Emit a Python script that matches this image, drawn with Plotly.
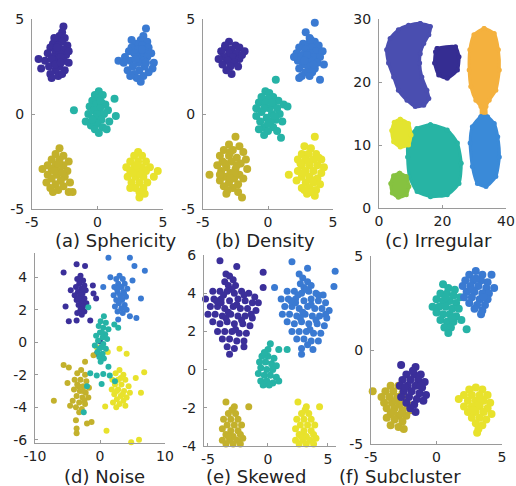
import plotly.graph_objects as go

W, H = 516, 486

# ---------------- colours ----------------
NAVY = "#3b2f9a"
BLUE = "#3a7ad2"
TEAL = "#26b3a6"
OLIVE = "#c3b12c"
YELLOW = "#e8e22c"
C_SLATE = "#4a4eb0"
C_DARK = "#352d92"
C_ORANGE = "#f4b13e"
C_BLUE = "#3a8ad8"
C_TEAL = "#27b4a4"
C_LYEL = "#e3e42f"
C_GREEN = "#86c240"

# ---------------- (a) Sphericity ----------------
A_NAVY = [(-2.6,4.6),(-2.7,4.3),(-2.9,4.1),(-2.5,4.0),(-3.1,3.9),(-2.7,3.8),(-3.4,3.7),(-2.3,3.6),(-3.0,3.6),(-3.6,3.5),
          (-2.6,3.4),(-3.2,3.3),(-2.9,3.2),(-3.8,3.2),(-2.4,3.1),(-3.4,3.0),(-3.0,2.9),(-4.0,2.8),(-2.6,2.8),(-3.3,2.7),
          (-2.2,2.7),(-3.7,2.5),(-2.9,2.5),(-4.3,2.4),(-2.5,2.3),(-3.2,2.3),(-3.6,2.1),(-3.0,2.0),(-2.7,2.1),(-3.5,1.9),
          (-3.1,3.5),(-2.8,3.0),(-3.5,2.9),(-3.2,2.6),(-2.8,2.7),(-4.5,2.9),(-2.2,3.3),(-3.3,4.0)]
A_BLUE = [(3.7,4.5),(3.5,4.1),(3.3,3.9),(3.8,3.8),(2.9,3.7),(3.4,3.6),(2.6,3.5),(3.9,3.5),(3.1,3.4),(2.4,3.3),
          (3.6,3.3),(4.1,3.2),(2.8,3.2),(3.3,3.1),(2.1,3.0),(3.0,3.0),(3.8,3.0),(1.6,2.8),(2.5,2.8),(3.5,2.8),
          (4.3,2.7),(2.0,2.7),(3.1,2.7),(2.7,2.5),(3.6,2.5),(4.2,2.4),(2.3,2.3),(3.2,2.3),(3.9,2.2),(2.8,2.1),
          (3.5,2.0),(3.0,1.9),(3.3,1.7),(2.5,2.0),(3.4,3.4),(2.9,2.9),(3.7,2.7),(2.6,3.9)]
A_TEAL = [(0.1,1.2),(-0.2,1.0),(0.4,1.0),(0.0,0.8),(-0.4,0.7),(0.3,0.6),(1.3,0.8),(-0.1,0.5),(0.6,0.5),(-0.6,0.4),
          (0.2,0.3),(-0.3,0.2),(0.8,0.2),(-1.8,0.2),(0.0,0.0),(-0.7,0.0),(0.5,0.0),(1.4,-0.1),(-0.2,-0.2),(0.3,-0.3),
          (-0.9,-0.4),(0.9,-0.4),(0.0,-0.5),(-0.5,-0.6),(0.4,-0.7),(-0.2,-0.8),(0.1,-1.0),(0.7,-0.8),(-0.4,-0.3),(0.2,0.7)]
A_OLIVE = [(-2.9,-1.8),(-3.2,-2.1),(-2.6,-2.2),(-3.5,-2.4),(-2.9,-2.4),(-2.2,-2.5),(-3.8,-2.7),(-3.2,-2.7),(-2.6,-2.7),(-4.2,-2.9),
           (-3.5,-2.9),(-2.9,-3.0),(-2.3,-3.0),(-3.8,-3.2),(-3.1,-3.2),(-2.5,-3.3),(-3.5,-3.4),(-2.8,-3.5),(-2.1,-3.6),(-3.9,-3.6),
           (-3.2,-3.7),(-2.6,-3.8),(-3.6,-3.9),(-3.0,-4.0),(-2.2,-4.1),(-3.4,-4.1),(-1.9,-4.1),(-3.3,-3.0),(-2.7,-3.1),(-3.0,-2.6)]
A_YELLOW = [(3.1,-2.0),(2.8,-2.2),(3.4,-2.2),(2.5,-2.5),(3.1,-2.5),(3.7,-2.5),(2.2,-2.8),(2.8,-2.8),(3.4,-2.8),(4.0,-2.8),
            (2.5,-3.0),(3.1,-3.0),(3.7,-3.0),(4.6,-3.0),(2.3,-3.3),(2.9,-3.3),(3.5,-3.3),(4.3,-3.3),(2.6,-3.6),(3.2,-3.6),
            (3.8,-3.6),(2.9,-3.9),(3.5,-3.9),(2.5,-3.9),(3.2,-4.1),(3.6,-4.2),(3.2,-4.4),(3.0,-2.7),(3.3,-3.2),(2.7,-3.1)]

# ---------------- (b) Density ----------------
B_NAVY = [(-3.0,3.8),(-2.5,3.6),(-3.3,3.5),(-2.8,3.4),(-2.2,3.5),(-3.6,3.3),(-3.0,3.2),(-2.4,3.2),(-1.8,3.3),(-3.4,3.0),
          (-2.7,3.0),(-3.8,2.9),(-2.2,2.9),(-3.1,2.8),(-2.6,2.7),(-3.5,2.6),(-2.9,2.5),(-2.3,2.5),(-3.2,2.3),(-2.8,2.1),
          (-3.3,3.6),(-2.0,3.1)]
B_BLUE = [(3.6,4.8),(2.9,4.3),(3.2,4.0),(3.6,3.8),(2.7,3.7),(3.1,3.7),(3.9,3.6),(2.4,3.5),(3.4,3.5),(2.9,3.4),
          (3.7,3.3),(4.2,3.3),(2.2,3.2),(3.2,3.2),(2.6,3.1),(3.5,3.0),(4.0,3.0),(2.9,2.9),(2.3,2.8),(3.3,2.8),
          (3.8,2.7),(2.7,2.6),(3.1,2.5),(3.6,2.4),(2.4,2.4),(2.9,2.2),(3.4,2.2),(2.6,2.0),(3.2,2.0),(4.0,1.8),
          (2.4,1.9),(3.0,3.1),(3.5,2.6),(2.8,2.8),(3.3,3.9),(4.3,2.6),(2.0,3.0)]
B_TEAL = [(0.6,1.8),(-0.2,1.2),(0.1,1.1),(-0.5,0.9),(0.4,0.9),(0.0,0.8),(0.8,0.7),(-0.7,0.6),(-0.2,0.6),(0.4,0.5),
          (1.2,0.5),(-0.9,0.3),(0.1,0.3),(0.7,0.3),(1.5,0.4),(-0.5,0.1),(0.3,0.0),(0.9,0.0),(-0.9,-0.1),(-0.1,-0.2),
          (0.6,-0.3),(-0.6,-0.4),(0.2,-0.4),(1.1,-0.4),(-0.3,-0.7),(0.4,-0.7),(-0.7,-0.8),(0.0,-0.9),(0.7,-0.9),(-0.3,-1.1),
          (1.0,-1.25),(0.3,0.6),(-0.3,0.3),(0.5,-0.1),(0.0,-0.5)]
B_OLIVE = [(-2.5,-1.2),(-3.0,-1.6),(-2.2,-1.7),(-3.4,-1.9),(-2.7,-1.9),(-1.9,-2.0),(-3.7,-2.2),(-3.0,-2.2),(-2.4,-2.3),(-1.7,-2.4),
           (-3.5,-2.5),(-2.8,-2.5),(-2.1,-2.6),(-3.9,-2.7),(-3.2,-2.8),(-2.5,-2.9),(-1.6,-2.9),(-3.6,-3.0),(-2.9,-3.1),(-2.2,-3.2),
           (-4.5,-3.2),(-3.3,-3.3),(-2.6,-3.4),(-1.9,-3.4),(-3.7,-3.5),(-3.0,-3.6),(-2.3,-3.7),(-3.4,-3.8),(-2.7,-3.9),(-3.1,-4.0),
           (-2.3,-4.1),(-2.0,-4.4),(-2.9,-2.0),(-3.3,-2.6),(-2.6,-3.1),(-2.9,-3.4),(-2.4,-2.7),(-3.7,-3.2),(-3.2,-4.2)]
B_YELLOW = [(3.6,-1.2),(2.8,-1.7),(3.3,-1.8),(2.6,-2.1),(3.1,-2.1),(3.7,-2.1),(2.3,-2.4),(2.9,-2.4),(3.5,-2.4),(4.1,-2.4),
            (2.6,-2.7),(3.2,-2.7),(3.8,-2.7),(4.3,-2.8),(2.3,-3.0),(2.9,-3.0),(3.5,-3.0),(4.1,-3.1),(1.6,-3.2),(2.6,-3.3),
            (3.2,-3.3),(3.8,-3.4),(2.2,-3.5),(2.9,-3.6),(3.5,-3.6),(4.0,-3.7),(2.6,-3.9),(3.2,-3.9),(3.7,-4.0),(3.0,-4.2),
            (3.6,-4.3),(3.1,-2.5),(3.4,-3.5),(2.7,-3.1),(3.9,-2.3),(2.5,-2.6),(3.3,-4.1),(2.8,-4.0)]

# ---------------- (c) Irregular (cluster outlines) ----------------
C_SLATE_OUT = [(13.0,29.3),(16.2,28.8),(15.7,27.5),(14.1,26.1),(13.0,24.5),(12.8,23.0),(13.5,20.8),(15.1,18.7),(15.7,17.4),
               (14.1,16.3),(11.4,16.1),(8.8,17.1),(6.1,18.7),(4.6,20.8),(3.0,23.0),(2.4,25.1),(3.5,26.9),(6.1,28.3),(9.3,29.0)]
C_DARK_OUT = [(18.3,25.3),(24.1,25.6),(25.2,24.0),(24.7,21.9),(21.5,20.6),(18.8,21.1),(17.5,23.0),(17.8,24.8)]
C_ORANGE_OUT = [(33.1,28.5),(36.3,27.7),(37.6,25.1),(37.9,21.9),(36.8,18.7),(34.7,17.1),(33.7,16.1),(33.7,14.5),
                (32.3,14.5),(32.1,16.1),(30.5,17.1),(28.9,19.3),(28.4,21.9),(28.6,25.1),(29.9,27.5)]
C_BLUE_OUT = [(32.1,14.5),(34.2,14.5),(36.3,13.4),(37.4,11.3),(37.9,8.1),(36.8,5.0),(33.7,3.4),(31.0,3.9),(29.4,6.6),
              (28.7,10.3),(29.4,12.9)]
C_TEAL_OUT = [(16.2,13.2),(21.5,12.4),(24.7,10.3),(25.9,7.1),(25.2,3.9),(21.5,2.1),(16.2,1.8),(12.0,2.6),(9.6,5.0),
              (9.0,8.1),(9.2,11.0),(11.9,12.6)]
C_LYEL_OUT = [(6.7,14.1),(9.3,13.4),(10.1,11.6),(9.3,10.0),(6.7,9.7),(4.6,10.5),(4.0,12.3),(4.8,13.6)]
C_GREEN_OUT = [(6.5,5.5),(8.6,5.0),(9.4,3.4),(8.6,2.1),(6.1,1.7),(4.2,2.4),(3.7,3.9),(4.6,5.1)]

# ---------------- (d) Noise ----------------
D_NAVY = [(-3.0,4.1),(-3.5,3.9),(-2.6,3.8),(-3.2,3.6),(-2.4,3.5),(-3.7,3.4),(-2.9,3.3),(-2.2,3.2),(-3.4,3.1),(-2.7,3.0),
          (-3.9,2.9),(-3.1,2.8),(-2.4,2.7),(-3.6,2.6),(-2.8,2.5),(-2.1,2.4),(-3.3,2.3),(-2.6,2.2),(-3.0,2.0),(-2.4,1.9),
          (-3.5,1.8),(-2.8,1.7),(-3.2,3.9),(-2.9,2.9),(-3.3,2.7),(-2.5,3.3),
          (-5.6,4.3),(-3.6,4.8),(-2.3,4.7),(-5.3,2.2),(-4.8,1.3),(-3.6,1.35),(-1.5,1.35),(-0.6,2.7),(-1.1,3.5),(-4.5,3.2),
          (0.0,0.05),(-0.5,-0.7),(-1.0,3.0)]
D_BLUE = [(3.0,4.1),(2.5,3.9),(3.5,3.9),(2.8,3.6),(3.8,3.6),(2.2,3.4),(3.3,3.4),(4.2,3.3),(2.7,3.1),(3.6,3.1),
          (2.1,2.9),(3.1,2.9),(4.0,2.8),(2.5,2.6),(3.4,2.6),(2.9,2.4),(3.8,2.3),(2.3,2.2),(3.3,2.1),(4.1,2.0),
          (2.7,1.9),(3.5,1.8),(3.0,3.4),(3.2,2.7),(2.6,3.3),(3.7,3.0),
          (0.8,5.6),(1.3,5.2),(4.6,5.2),(6.9,4.4),(5.3,4.7),(6.3,2.7),(0.5,3.4),(4.6,1.6),(5.6,1.5),(2.8,1.4),
          (1.6,4.0),(5.0,3.8)]
D_TEAL = [(0.6,1.6),(0.1,1.3),(0.9,1.2),(-0.2,1.0),(0.5,0.9),(1.3,0.8),(0.0,0.6),(0.8,0.5),(-0.6,0.4),(0.4,0.3),
          (1.1,0.2),(-0.3,0.1),(0.5,-0.1),(-0.8,-0.2),(0.2,-0.3),(0.9,-0.4),(-0.4,-0.6),(0.4,-0.7),(-0.1,-0.9),(0.6,-1.0),
          (0.1,-1.2),(0.3,0.6),(-0.1,-0.4),
          (-1.8,2.16),(2.8,0.9),(2.2,1.1),(1.3,-1.5),(0.5,-1.95),(-2.0,-2.7),(-2.5,-4.3),(1.5,-2.05),(-0.5,-2.05),
          (0.25,-2.56),(-1.5,-1.9),(2.3,-2.4)]
D_OLIVE = [(-2.9,-1.7),(-3.5,-1.9),(-2.3,-2.0),(-3.9,-2.3),(-3.0,-2.3),(-2.1,-2.4),(-3.5,-2.6),(-2.6,-2.7),(-1.7,-2.8),(-4.0,-2.9),
           (-3.1,-3.0),(-2.2,-3.1),(-3.6,-3.3),(-2.7,-3.4),(-1.8,-3.4),(-4.2,-3.6),(-3.2,-3.7),(-2.3,-3.8),(-3.7,-4.0),(-2.8,-4.1),
           (-3.2,-4.3),(-2.6,-3.0),(-3.3,-2.7),(-2.4,-3.6),
           (-5.6,-1.4),(-4.8,-1.55),(-7.1,-3.6),(-4.6,-3.9),(-3.7,-4.8),(-3.6,-5.3),(-3.6,-5.6),(-2.0,-5.0),(-1.3,-4.9),
           (-1.0,-0.8),(-2.3,-1.2),(-5.0,-2.5)]
D_YELLOW = [(3.0,-1.7),(2.4,-1.9),(3.6,-2.0),(1.9,-2.3),(2.8,-2.3),(3.9,-2.3),(2.3,-2.6),(3.3,-2.6),(4.4,-2.7),(1.8,-2.9),
            (2.8,-2.9),(3.7,-3.0),(4.6,-3.1),(2.2,-3.2),(3.2,-3.3),(4.1,-3.4),(2.6,-3.5),(3.6,-3.6),(2.0,-3.7),(3.0,-3.8),
            (3.9,-3.9),(2.5,-4.0),(3.2,-2.2),(2.6,-3.0),(3.5,-3.2),
            (6.3,-3.1),(6.8,-1.85),(4.1,-0.7),(3.0,-0.4),(1.2,-0.6),(0.8,-3.95),(1.0,-5.45),(4.8,-6.15),(6.0,-6.0),
            (-0.5,-0.3),(5.5,-2.2)]

# ---------------- (e) Skewed ----------------
E_NAVY = [(-4.0,5.7),(-2.6,5.4),(-3.5,5.0),(-3.2,4.9),(-2.9,4.7),(-3.6,4.6),(-3.3,4.4),(-2.7,4.4),(-0.4,5.1),(-0.4,4.3),(-5.6,4.3),
          (-4.6,4.1),(-4.0,4.1),(-3.4,4.1),(-2.8,4.0),(-2.2,4.1),(-1.6,4.0),(-1.1,3.8),(-5.2,3.7),(-4.5,3.7),(-3.9,3.7),
          (-3.2,3.6),(-2.5,3.7),(-1.9,3.6),(-1.3,3.5),(-0.8,3.5),(-4.8,3.3),(-4.2,3.3),(-3.6,3.2),(-2.9,3.3),(-2.3,3.2),
          (-1.7,3.2),(-1.0,3.1),(-5.0,2.9),(-4.4,2.9),(-3.8,2.8),(-3.1,2.9),(-2.5,2.8),(-1.9,2.8),(-1.3,2.7),(-4.6,2.5),
          (-4.0,2.4),(-3.4,2.5),(-2.8,2.4),(-2.1,2.4),(-1.5,2.3),(-4.2,2.0),(-3.6,2.0),(-3.0,2.0),(-2.4,1.9),(-1.8,1.9),
          (-3.8,1.6),(-3.2,1.6),(-2.6,1.5),(-2.0,1.5),(-3.4,1.2),(-2.8,1.1),(-3.2,0.8),(-2.0,1.2),
          (-3.7,3.9),(-2.6,3.4),(-3.3,3.0),(-2.2,2.6),(-3.9,3.5),(-1.4,2.9),(-4.3,3.6),(-2.7,2.1),(-3.5,2.7),(-2.0,3.9),(-3.0,4.2)]
E_BLUE = [(2.0,5.65),(3.3,5.3),(2.6,5.0),(2.9,4.8),(3.3,4.6),(2.7,4.5),(3.0,4.3),(3.6,4.4),(5.6,5.15),(5.5,4.35),(0.55,4.3),
          (1.6,4.1),(2.2,4.1),(2.8,4.0),(3.4,4.1),(4.0,4.0),(4.6,3.9),(1.1,3.7),(1.7,3.7),(2.3,3.7),(3.0,3.6),
          (3.6,3.7),(4.2,3.6),(4.8,3.5),(1.4,3.3),(2.0,3.3),(2.6,3.2),(3.3,3.3),(3.9,3.2),(4.5,3.2),(5.1,3.1),
          (1.2,2.9),(1.8,2.9),(2.4,2.8),(3.1,2.9),(3.7,2.8),(4.3,2.8),(4.9,2.7),(1.6,2.5),(2.2,2.4),(2.8,2.5),
          (3.4,2.4),(4.1,2.4),(4.7,2.3),(2.0,2.0),(2.6,2.0),(3.2,2.0),(3.8,1.9),(4.4,1.9),(2.4,1.6),(3.0,1.6),
          (3.6,1.5),(4.2,1.5),(2.8,1.1),(3.75,1.05),(2.8,0.8),(3.3,1.3),
          (2.5,3.9),(3.6,3.4),(2.9,3.0),(4.0,2.6),(2.3,3.5),(4.8,2.9),(1.9,3.6),(3.5,2.1),(2.7,2.7),(4.2,3.9),(3.2,4.2)]
E_TEAL = [(-0.5,0.7),(0.0,0.7),(0.5,0.6),(-0.7,0.4),(-0.2,0.4),(0.3,0.3),(0.7,0.2),(-0.6,0.1),(-0.1,0.0),(0.4,0.0),
          (-0.8,-0.2),(-0.3,-0.3),(0.2,-0.3),(0.7,-0.4),(-0.6,-0.6),(-0.1,-0.6),(0.4,-0.7),(-0.4,-0.8),(0.1,-0.8),(0.9,-0.6),
          (0.2,1.35),(0.0,1.05),(0.9,1.05),(1.6,1.05),(-0.3,0.9)]
E_OLIVE = [(-3.5,-1.7),(-2.8,-1.95),(-1.6,-1.95),(-3.3,-2.3),(-2.7,-2.3),(-3.7,-2.6),(-3.1,-2.6),(-2.5,-2.6),(-3.4,-2.9),(-2.8,-2.9),
           (-2.2,-2.9),(-3.8,-3.1),(-3.1,-3.2),(-2.5,-3.2),(-3.5,-3.4),(-2.9,-3.5),(-2.3,-3.4),(-3.8,-3.7),(-3.2,-3.7),(-2.6,-3.7),
           (-2.1,-3.6),(-3.5,-3.9),(-2.9,-3.9),(-2.3,-3.9),(-3.0,-2.1),(-3.3,-3.5)]
E_YELLOW = [(2.5,-1.7),(3.2,-1.95),(4.3,-1.95),(2.8,-2.3),(3.4,-2.3),(2.4,-2.6),(3.0,-2.6),(3.6,-2.6),(2.7,-2.9),(3.3,-2.9),
            (3.9,-2.9),(2.3,-3.1),(3.0,-3.2),(3.6,-3.2),(2.6,-3.4),(3.2,-3.5),(3.8,-3.4),(2.3,-3.7),(2.9,-3.7),(3.5,-3.7),
            (4.0,-3.6),(2.6,-3.9),(3.2,-3.9),(3.8,-3.9),(3.1,-2.1),(2.8,-3.5)]

# ---------------- (f) Subcluster ----------------
F_NAVY = [(-2.7,-0.8),(-1.6,-0.9),(-2.3,-1.3),(-1.7,-1.3),(-1.2,-1.3),(-2.6,-1.6),(-2.0,-1.6),(-1.4,-1.6),(-0.9,-1.7),(-2.8,-1.9),
          (-2.2,-1.9),(-1.6,-1.9),(-1.1,-2.0),(-2.5,-2.2),(-1.9,-2.2),(-1.3,-2.3),(-0.8,-2.4),(-2.7,-2.5),(-2.1,-2.5),(-1.5,-2.6),
          (-1.0,-2.7),(-2.3,-2.8),(-1.7,-2.9),(-2.0,-3.1),(-1.6,-3.3),(-1.8,-1.1),(-2.4,-2.0),(-1.2,-1.9)]
F_OLIVE = [(-3.5,-1.9),(-2.9,-1.9),(-3.9,-2.2),(-3.3,-2.2),(-2.6,-2.3),(-4.87,-2.2),(-4.2,-2.5),(-3.6,-2.5),(-3.0,-2.5),(-2.4,-2.6),
           (-4.0,-2.8),(-3.4,-2.8),(-2.8,-2.9),(-2.2,-2.9),(-3.8,-3.1),(-3.2,-3.1),(-2.6,-3.2),(-2.0,-3.2),(-3.5,-3.4),(-2.9,-3.5),
           (-2.3,-3.5),(-3.8,-3.6),(-3.2,-3.7),(-2.6,-3.8),(-3.5,-4.0),(-2.9,-4.1),(-2.5,-4.2),(-3.1,-2.7),(-2.7,-3.4),(-3.3,-3.3)]
F_TEAL = [(0.5,3.5),(0.9,3.3),(1.4,3.2),(0.3,3.0),(0.8,3.0),(1.3,2.9),(1.8,2.8),(0.0,2.7),(0.5,2.6),(1.0,2.6),
          (1.5,2.5),(-0.3,2.3),(0.2,2.3),(0.7,2.3),(1.2,2.2),(1.7,2.2),(0.0,2.0),(0.5,1.9),(1.0,1.9),(1.5,1.8),
          (0.3,1.6),(0.8,1.5),(1.3,1.5),(0.6,1.2),(1.1,1.2),(0.9,0.9),(2.3,1.1),(1.9,1.6),(0.7,2.8),(1.2,1.7)]
F_BLUE = [(3.0,4.2),(2.5,4.0),(3.5,4.0),(4.2,4.0),(2.2,3.7),(2.8,3.7),(3.4,3.7),(3.9,3.6),(2.0,3.4),(2.6,3.4),
          (3.2,3.4),(3.8,3.3),(4.4,3.3),(2.3,3.1),(2.9,3.1),(3.5,3.0),(4.0,3.0),(2.1,2.8),(2.7,2.8),(3.3,2.7),
          (3.9,2.7),(2.5,2.5),(3.1,2.4),(3.7,2.4),(2.9,2.2),(3.5,2.1),(3.4,1.9),(3.0,3.8),(3.6,2.8),(2.7,3.2)]
F_YELLOW = [(3.0,-2.0),(2.5,-2.1),(3.5,-2.1),(2.1,-2.4),(2.7,-2.4),(3.3,-2.4),(3.9,-2.4),(1.7,-2.6),(2.4,-2.7),(3.0,-2.7),
            (3.6,-2.7),(4.1,-2.8),(2.1,-3.0),(2.7,-3.0),(3.3,-3.0),(3.9,-3.1),(2.4,-3.3),(3.0,-3.3),(3.6,-3.3),(4.2,-3.4),
            (2.7,-3.6),(3.3,-3.6),(3.8,-3.7),(3.0,-3.9),(3.5,-4.0),(3.2,-4.2),(3.1,-4.4),(3.2,-2.9),(2.8,-3.2),(3.4,-2.6)]

CAPTIONS = ["(a) Sphericity", "(b) Density", "(c) Irregular", "(d) Noise", "(e) Skewed", "(f) Subcluster"]

# axis ranges / ticks per panel
X_RANGES = [[-5, 5], [-5, 5], [0, 40], [-10, 10], [-5.33, 5.67], [-5, 5]]
Y_RANGES = [[-5, 5], [-5, 5], [0, 30], [-6.2, 5.5], [-4, 6], [-5, 5]]
X_TICKS = [[-5, 0, 5], [-5, 0, 5], [0, 20, 40], [-10, 0, 10], [-5, 0, 5], [-5, 0, 5]]
Y_TICKS = [[-5, 0, 5], [-5, 0, 5], [0, 10, 20, 30], [-6, -4, -2, 0, 2, 4], [-4, -2, 0, 2, 4, 6], [-5, 0, 5]]

# ---------------- layout geometry (pixels) ----------------
PANEL_PX = [  # x0, x1, ytop, ybottom
    (32, 163, 19, 209), (203, 333, 19, 209), (379, 506, 19, 208),
    (35, 165, 253, 443), (204, 336, 255, 446), (371, 502, 256, 444)]
CAPTION_PX = [(115, 240), (265, 240), (438, 240), (104, 476), (256, 476), (400, 476)]
MARKER_SIZES = [8, 8, 5, 6, 7, 8]

fig = go.Figure()

def add_pts(pts, color, idx):
    ax = "" if idx == 1 else str(idx)
    fig.add_trace(go.Scatter(
        x=[p[0] for p in pts], y=[p[1] for p in pts], mode="markers",
        marker=dict(color=color, size=MARKER_SIZES[idx - 1], line=dict(width=0)),
        xaxis="x" + ax, yaxis="y" + ax, showlegend=False, hoverinfo="skip", cliponaxis=False))

def add_shape(pts, color, idx):
    ax = "" if idx == 1 else str(idx)
    xs = [p[0] for p in pts] + [pts[0][0]]
    ys = [p[1] for p in pts] + [pts[0][1]]
    fig.add_trace(go.Scatter(
        x=xs, y=ys, mode="lines+markers", fill="toself", fillcolor=color,
        line=dict(color=color, width=3, shape="spline", smoothing=0.6),
        marker=dict(color=color, size=MARKER_SIZES[idx - 1]),
        xaxis="x" + ax, yaxis="y" + ax, showlegend=False, hoverinfo="skip"))

for pts, c in [(A_NAVY, NAVY), (A_BLUE, BLUE), (A_TEAL, TEAL), (A_OLIVE, OLIVE), (A_YELLOW, YELLOW)]:
    add_pts(pts, c, 1)
for pts, c in [(B_NAVY, NAVY), (B_BLUE, BLUE), (B_TEAL, TEAL), (B_OLIVE, OLIVE), (B_YELLOW, YELLOW)]:
    add_pts(pts, c, 2)
for pts, c in [(C_SLATE_OUT, C_SLATE), (C_DARK_OUT, C_DARK), (C_ORANGE_OUT, C_ORANGE), (C_BLUE_OUT, C_BLUE),
               (C_TEAL_OUT, C_TEAL), (C_LYEL_OUT, C_LYEL), (C_GREEN_OUT, C_GREEN)]:
    add_shape(pts, c, 3)
for pts, c in [(D_NAVY, NAVY), (D_BLUE, BLUE), (D_OLIVE, OLIVE), (D_YELLOW, YELLOW), (D_TEAL, TEAL)]:
    add_pts(pts, c, 4)
for pts, c in [(E_NAVY, NAVY), (E_BLUE, BLUE), (E_TEAL, TEAL), (E_OLIVE, OLIVE), (E_YELLOW, YELLOW)]:
    add_pts(pts, c, 5)
for pts, c in [(F_TEAL, TEAL), (F_BLUE, BLUE), (F_OLIVE, OLIVE), (F_NAVY, NAVY), (F_YELLOW, YELLOW)]:
    add_pts(pts, c, 6)

FONT = "DejaVu Sans"
AX_COLOR = "#9a9a9a"
layout = dict(width=W, height=H, margin=dict(l=0, r=0, t=0, b=0, autoexpand=False),
              paper_bgcolor="white", plot_bgcolor="white", showlegend=False,
              font=dict(family=FONT, size=14, color="#222222"))

def fmt(v):
    return ("-" + str(abs(v))) if v < 0 else str(v)

for i in range(6):
    x0, x1, yt, yb = PANEL_PX[i]
    sfx = "" if i == 0 else str(i + 1)
    common = dict(showline=True, linecolor=AX_COLOR, linewidth=1, mirror=False, showgrid=False, zeroline=False,
                  ticks="inside", ticklen=3, tickcolor=AX_COLOR, tickfont=dict(family=FONT, size=14, color="#222222"),
                  tickmode="array", fixedrange=True, automargin=False)
    layout["xaxis" + sfx] = dict(common, domain=[x0 / W, x1 / W], range=X_RANGES[i], anchor="y" + sfx,
                                 tickvals=X_TICKS[i], ticktext=[fmt(v) for v in X_TICKS[i]])
    layout["yaxis" + sfx] = dict(common, domain=[1 - yb / H, 1 - yt / H], range=Y_RANGES[i], anchor="x" + sfx,
                                 tickvals=Y_TICKS[i], ticktext=[fmt(v) for v in Y_TICKS[i]], ticklabelstandoff=4)

fig.update_layout(**layout)

for i, (cx, cy) in enumerate(CAPTION_PX):
    fig.add_annotation(text=CAPTIONS[i], x=cx / W, y=1 - cy / H, xref="paper", yref="paper",
                       xanchor="center", yanchor="middle", showarrow=False,
                       font=dict(family=FONT, size=18, color="#222222"))

fig.write_html("out.html", config={"displayModeBar": False},
               post_script="document.body.style.margin='0';document.body.style.overflow='hidden';")
